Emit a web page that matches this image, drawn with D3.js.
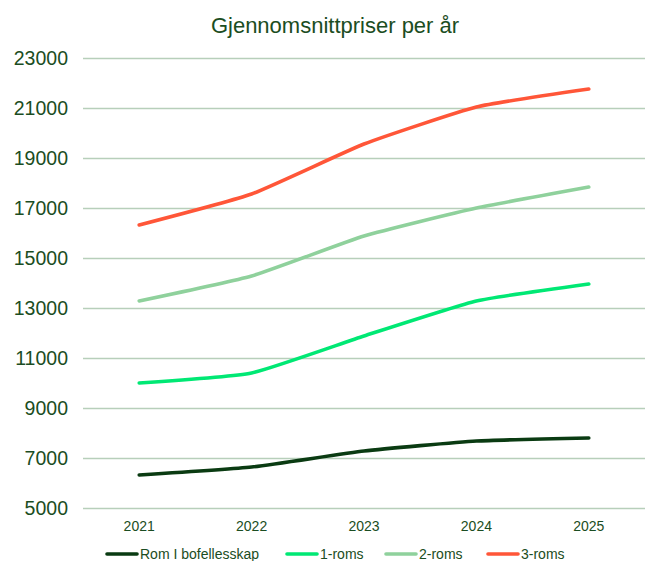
<!DOCTYPE html>
<html>
<head>
<meta charset="utf-8">
<script src="https://cdn.jsdelivr.net/npm/d3@7"></script>
<style>
  body { margin: 0; background: #fff; }
  text { font-family: "Liberation Sans", Arial, sans-serif; }
</style>
</head>
<body>
<svg id="chart" width="652" height="561"></svg>
<script>
var years = ["2021", "2022", "2023", "2024", "2025"];
var seriesNames = ["Rom I bofellesskap", "1-roms", "2-roms", "3-roms"];
var romBofellesskap = [6320, 6640, 7280, 7680, 7800];
var roms1 = [10000, 10400, 11880, 13280, 13960];
var roms2 = [13280, 14280, 15880, 17000, 17840];
var roms3 = [16320, 17560, 19560, 21040, 21760];
var yTicks = [5000, 7000, 9000, 11000, 13000, 15000, 17000, 19000, 21000, 23000];
var colors = ["#0a3b12", "#00e874", "#8fd19c", "#ff5638"];

var series = [romBofellesskap, roms1, roms2, roms3];

var svg = d3.select("#chart");
var textColor = "#1b4d22";

// scales
var x = d3.scaleBand().domain(years).range([83, 645]);
var y = d3.scaleLinear().domain([5000, 23000]).range([508, 58]);

// title
svg.append("text")
  .attr("x", 335).attr("y", 33)
  .attr("text-anchor", "middle")
  .attr("font-size", 22)
  .attr("fill", textColor)
  .text("Gjennomsnittpriser per år");

// gridlines + y labels
var yAxis = svg.append("g")
  .attr("transform", "translate(83,0)")
  .call(d3.axisLeft(y).tickValues(yTicks).tickSize(-562).tickPadding(15).tickFormat(d3.format("d")));
yAxis.select(".domain").remove();
yAxis.selectAll(".tick line").attr("stroke", "#b7cfba").attr("stroke-width", 1.3);
yAxis.selectAll(".tick text")
  .attr("font-size", 19.5)
  .attr("fill", textColor)
  .attr("font-family", "Liberation Sans, Arial, sans-serif");

// x labels
var xAxis = svg.append("g")
  .attr("transform", "translate(0,508)")
  .call(d3.axisBottom(x).tickSize(0).tickPadding(13));
xAxis.select(".domain").remove();
xAxis.selectAll(".tick text")
  .attr("font-size", 14)
  .attr("fill", textColor)
  .attr("font-family", "Liberation Sans, Arial, sans-serif");

// lines, lightly smoothed
var line = d3.line()
  .x(function(d, i) { return x(years[i]) + x.bandwidth() / 2; })
  .y(function(d) { return y(d); })
  .curve(d3.curveCardinal.tension(0.55));

series.forEach(function(values, i) {
  svg.append("path")
    .datum(values)
    .attr("d", line)
    .attr("fill", "none")
    .attr("stroke", colors[i])
    .attr("stroke-width", 3.6)
    .attr("stroke-linecap", "round")
    .attr("stroke-linejoin", "round");
});

// legend
var legendX = [107, 287, 386, 488];
var legend = svg.append("g");
seriesNames.forEach(function(name, i) {
  legend.append("line")
    .attr("x1", legendX[i]).attr("x2", legendX[i] + 30)
    .attr("y1", 554).attr("y2", 554)
    .attr("stroke", colors[i])
    .attr("stroke-width", 3.6)
    .attr("stroke-linecap", "round");
  legend.append("text")
    .attr("x", legendX[i] + 33).attr("y", 559)
    .attr("font-size", 14)
    .attr("fill", textColor)
    .text(name);
});
</script>
</body>
</html>
